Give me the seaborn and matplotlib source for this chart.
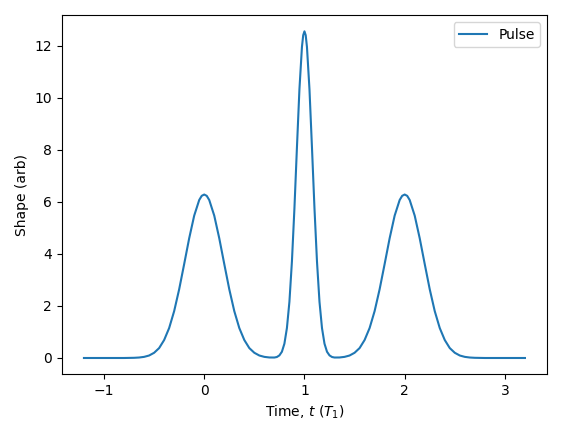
import matplotlib
matplotlib.use("Agg")
import matplotlib.pyplot as plt
import seaborn as sns
import pandas as pd

# values
time_left = [-1.2, -1.0, -0.8, -0.7, -0.65, -0.6, -0.55, -0.5, -0.45, -0.4,
             -0.35, -0.3, -0.25, -0.2, -0.15, -0.1, -0.05, -0.025, 0.0, 0.025,
             0.05, 0.1,
             0.15, 0.2, 0.25, 0.3, 0.35, 0.4, 0.45, 0.5, 0.55, 0.6,
             0.65, 0.7, 0.725, 0.75, 0.775, 0.8, 0.825, 0.85, 0.875, 0.9,
             0.925, 0.95, 0.975, 0.9875, 1.0]
shape_left = [0.0, 0.0, 0.0, 0.007, 0.018, 0.043, 0.095, 0.20, 0.38, 0.69,
              1.15, 1.80, 2.64, 3.61, 4.60, 5.47, 6.07, 6.23, 6.28, 6.23,
              6.07, 5.47,
              4.60, 3.61, 2.64, 1.80, 1.15, 0.69, 0.38, 0.20, 0.095, 0.043,
              0.02, 0.018, 0.038, 0.10, 0.24, 0.55, 1.15, 2.16, 3.71, 5.75,
              8.09, 10.33, 11.95, 12.40, 12.55]
time_right = [1.0125, 1.025, 1.05, 1.075, 1.1, 1.125, 1.15, 1.175, 1.2, 1.225,
              1.25, 1.275, 1.3, 1.35, 1.4, 1.45, 1.5, 1.55, 1.6, 1.65, 1.7,
              1.75, 1.8, 1.85, 1.9, 1.95, 1.975, 2.0, 2.025, 2.05, 2.1, 2.15,
              2.2, 2.25, 2.3, 2.35, 2.4, 2.45, 2.5, 2.55, 2.6, 2.65, 2.7,
              2.8, 3.0, 3.2]
shape_right = [12.40, 11.95, 10.33, 8.09, 5.75, 3.71, 2.16, 1.15, 0.55, 0.24,
               0.10, 0.038, 0.018, 0.02, 0.043, 0.095, 0.20, 0.38, 0.69, 1.15,
               1.80, 2.64, 3.61, 4.60, 5.47, 6.07, 6.23, 6.28, 6.23, 6.07,
               5.47, 4.60, 3.61, 2.64, 1.80, 1.15, 0.69, 0.38, 0.20, 0.095,
               0.043, 0.018, 0.007, 0.0, 0.0, 0.0]

df = pd.DataFrame({
    "t": time_left + time_right,
    "shape": shape_left + shape_right,
})

fig, ax = plt.subplots(figsize=(5.62, 4.36), dpi=100)

sns.lineplot(data=df, x="t", y="shape", ax=ax, color="#1f77b4",
             label="Pulse", sort=True)

ax.set_xlabel("Time, $t$ ($T_1$)")
ax.set_ylabel("Shape (arb)")
ax.set_xticks([-1, 0, 1, 2, 3])
ax.set_yticks([0, 2, 4, 6, 8, 10, 12])
ax.legend(loc="upper right")

plt.tight_layout()
plt.savefig("out.png", dpi=100)
